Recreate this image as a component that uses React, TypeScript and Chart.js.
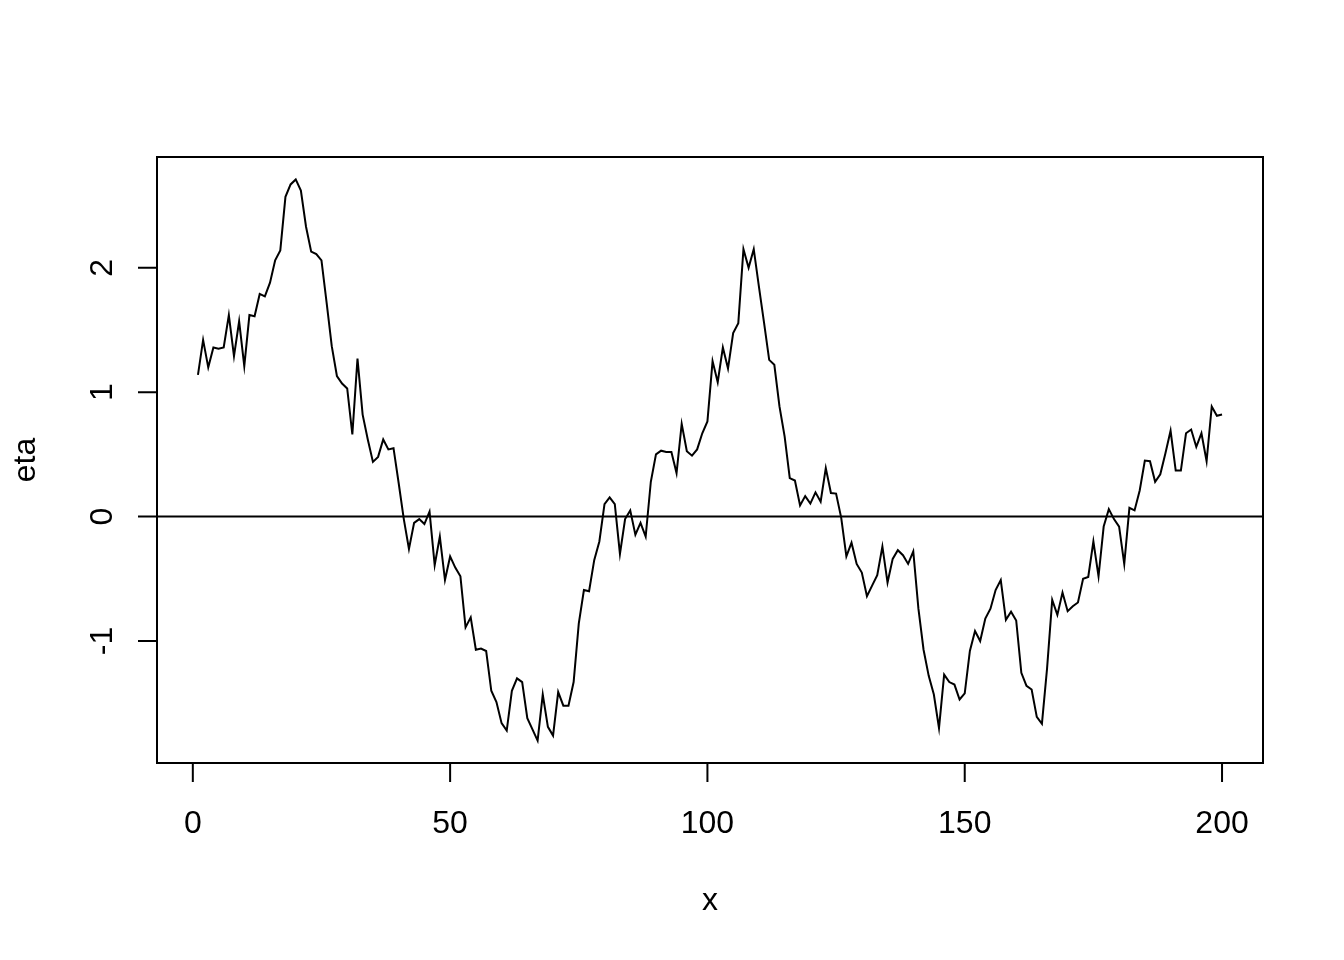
import React, { useEffect, useRef } from "react";
import { Chart, registerables } from "chart.js";

Chart.register(...registerables);

const etaValues: number[] = [
  1.14, 1.42, 1.2, 1.36, 1.35, 1.36, 1.62, 1.29, 1.57, 1.21,
  1.62, 1.61, 1.79, 1.77, 1.88, 2.06, 2.14, 2.57, 2.67, 2.71,
  2.62, 2.33, 2.13, 2.11, 2.06, 1.72, 1.37, 1.13, 1.07, 1.03,
  0.66, 1.27, 0.82, 0.62, 0.44, 0.48, 0.62, 0.54, 0.55, 0.27,
  -0.02, -0.26, -0.05, -0.02, -0.06, 0.04, -0.39, -0.16, -0.51, -0.32,
  -0.41, -0.48, -0.89, -0.81, -1.07, -1.06, -1.08, -1.4, -1.49, -1.66,
  -1.72, -1.4, -1.3, -1.33, -1.62, -1.71, -1.8, -1.43, -1.69, -1.76,
  -1.41, -1.52, -1.52, -1.33, -0.86, -0.59, -0.6, -0.35, -0.2, 0.1,
  0.155, 0.1, -0.3, -0.02, 0.05, -0.145, -0.05, -0.16, 0.28, 0.5,
  0.53, 0.52, 0.52, 0.35, 0.745, 0.525, 0.49, 0.54, 0.67, 0.765,
  1.25, 1.08, 1.36, 1.19, 1.475, 1.555, 2.15, 2.0, 2.15, 1.85,
  1.56, 1.26, 1.22, 0.886, 0.645, 0.31, 0.29, 0.09, 0.165, 0.105,
  0.195, 0.12, 0.39, 0.19, 0.185, -0.01, -0.32, -0.21, -0.38, -0.45,
  -0.64, -0.555, -0.47, -0.24, -0.53, -0.34, -0.27, -0.31, -0.38, -0.28,
  -0.74, -1.07, -1.28, -1.43, -1.7, -1.27, -1.33, -1.35, -1.47, -1.42,
  -1.08, -0.92, -1.0, -0.82, -0.74, -0.59, -0.51, -0.83, -0.765, -0.835,
  -1.255, -1.36, -1.39, -1.61, -1.665, -1.22, -0.67, -0.79, -0.61, -0.76,
  -0.72, -0.69, -0.5, -0.485, -0.2, -0.48, -0.08, 0.06, -0.02, -0.08,
  -0.38, 0.07, 0.05, 0.21, 0.45, 0.445, 0.28, 0.34, 0.51, 0.69,
  0.37, 0.37, 0.67, 0.7, 0.56, 0.67, 0.445, 0.885, 0.81, 0.82,
];

const xIndex: number[] = etaValues.map((_, i) => i + 1);
const xTicks: number[] = [0, 50, 100, 150, 200];
const yTicks: number[] = [-1, 0, 1, 2];
const xTitle = "x";
const yTitle = "eta";
const refLine = 0;

const FONT = '32px "Liberation Sans", Arial, Helvetica, sans-serif';

export default function App() {
  const ref = useRef<HTMLCanvasElement | null>(null);

  useEffect(() => {
    if (!ref.current) return;
    const xMinD = Math.min(...xIndex);
    const xMaxD = Math.max(...xIndex);
    const yMinD = Math.min(...etaValues);
    const yMaxD = Math.max(...etaValues);
    const xPad = (xMaxD - xMinD) * 0.04;
    const yPad = (yMaxD - yMinD) * 0.04;

    const rBase = {
      id: "rBase",
      afterDatasetsDraw(chart: any) {
        const ctx = chart.ctx as CanvasRenderingContext2D;
        const area = chart.chartArea;
        const xs = chart.scales.x;
        const ys = chart.scales.y;
        ctx.save();
        ctx.strokeStyle = "#000";
        ctx.fillStyle = "#000";
        ctx.lineWidth = 2;
        // reference line
        const y0 = ys.getPixelForValue(refLine);
        ctx.beginPath();
        ctx.moveTo(area.left, y0);
        ctx.lineTo(area.right, y0);
        ctx.stroke();
        // box
        ctx.strokeRect(area.left, area.top, area.right - area.left, area.bottom - area.top);
        const tl = 19;
        // x axis ticks
        ctx.font = FONT;
        ctx.textAlign = "center";
        ctx.textBaseline = "alphabetic";
        ctx.beginPath();
        for (const t of xTicks) {
          const px = xs.getPixelForValue(t);
          ctx.moveTo(px, area.bottom);
          ctx.lineTo(px, area.bottom + tl);
        }
        ctx.stroke();
        for (const t of xTicks) {
          const px = xs.getPixelForValue(t);
          ctx.fillText(String(t), px, area.bottom + 70);
        }
        // y axis ticks
        ctx.beginPath();
        for (const t of yTicks) {
          const py = ys.getPixelForValue(t);
          ctx.moveTo(area.left, py);
          ctx.lineTo(area.left - tl, py);
        }
        ctx.stroke();
        for (const t of yTicks) {
          const py = ys.getPixelForValue(t);
          ctx.save();
          ctx.translate(area.left - 45, py);
          ctx.rotate(-Math.PI / 2);
          ctx.fillText(String(t), 0, 0);
          ctx.restore();
        }
        // titles
        ctx.fillText(xTitle, (area.left + area.right) / 2, area.bottom + 147);
        ctx.save();
        ctx.translate(35, (area.top + area.bottom) / 2);
        ctx.rotate(-Math.PI / 2);
        ctx.fillText(yTitle, 0, 0);
        ctx.restore();
        ctx.restore();
      },
    };

    const chart = new Chart(ref.current, {
      type: "line",
      data: {
        datasets: [
          {
            data: xIndex.map((x, i) => ({ x, y: etaValues[i] })),
            borderColor: "#000",
            borderWidth: 2,
            pointRadius: 0,
            tension: 0,
            fill: false,
          },
        ],
      },
      options: {
        animation: false,
        responsive: false,
        layout: { padding: { left: 157, right: 81, top: 157, bottom: 197 } },
        plugins: { legend: { display: false }, tooltip: { enabled: false } },
        scales: {
          x: {
            type: "linear",
            min: xMinD - xPad,
            max: xMaxD + xPad,
            display: false,
          },
          y: {
            type: "linear",
            min: yMinD - yPad,
            max: yMaxD + yPad,
            display: false,
          },
        },
      },
      plugins: [rBase],
    });
    return () => chart.destroy();
  }, []);

  return (
    <div style={{ position: "absolute", left: 0, top: 0, width: 1344, height: 960, background: "#fff" }}>
      <canvas ref={ref} width={1344} height={960} style={{ display: "block" }} />
    </div>
  );
}
